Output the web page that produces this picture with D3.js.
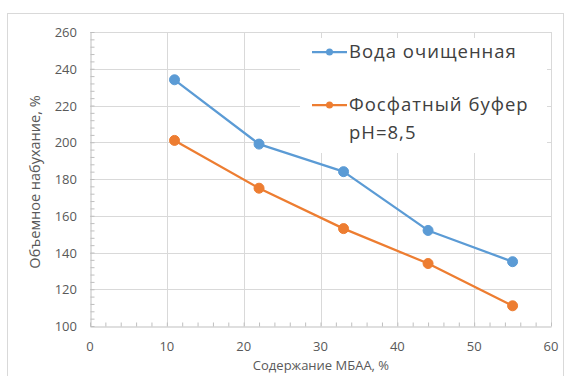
<!DOCTYPE html>
<html>
<head>
<meta charset="utf-8">
<script src="https://cdn.jsdelivr.net/npm/d3@7"></script>
<style>
  html, body { margin: 0; padding: 0; background: #fff; }
  svg { display: block; font-family: "Open Sans", sans-serif; }
</style>
</head>
<body>
<svg id="chart" width="566" height="376"></svg>
<script>
// МБАА content, %
const mbaa = [11, 22, 33, 44, 55];
// Volume swelling, %
const water = [234, 199, 184, 152, 135];
const buffer = [201, 175, 153, 134, 111];
const seriesNames = ["Вода очищенная", "Фосфатный буфер pH=8,5"];
const xTicks = [0, 10, 20, 30, 40, 50, 60];
const yTicks = [100, 120, 140, 160, 180, 200, 220, 240, 260];

const svg = d3.select("#chart");

const x = d3.scaleLinear().domain([0, 60]).range([90, 551]);
const y = d3.scaleLinear().domain([100, 260]).range([326, 32]);

// outer chart frame
svg.append("rect")
  .attr("x", 7.5).attr("y", 13.5).attr("width", 556).attr("height", 380)
  .attr("fill", "#fff").attr("stroke", "#d9d9d9");

// gridlines
const grid = svg.append("g");
grid.selectAll("line.h").data(yTicks.slice(1)).join("line")
  .attr("x1", x(0)).attr("x2", x(60))
  .attr("y1", d => Math.round(y(d)) + 0.5).attr("y2", d => Math.round(y(d)) + 0.5)
  .attr("stroke", "#d9d9d9");
grid.selectAll("line.v").data(xTicks.slice(1)).join("line")
  .attr("y1", y(100)).attr("y2", y(260))
  .attr("x1", d => Math.round(x(d)) + 0.5).attr("x2", d => Math.round(x(d)) + 0.5)
  .attr("stroke", "#d9d9d9");

// axes with inside minor ticks
const xAxis = d3.axisBottom(x).tickValues(d3.range(0, 61, 2)).tickSizeInner(-4).tickSizeOuter(0).tickFormat("");
const gx = svg.append("g").attr("transform", `translate(0,${Math.round(y(100)) + 0.5})`).call(xAxis);
gx.select(".domain").attr("stroke", "#bfbfbf");
gx.selectAll(".tick line").attr("stroke", "#bfbfbf");

const yAxis = d3.axisLeft(y).tickValues(d3.range(100, 261, 4)).tickSizeInner(-4).tickSizeOuter(0).tickFormat("");
const gy = svg.append("g").attr("transform", `translate(${Math.round(x(0)) + 0.5},0)`).call(yAxis);
gy.select(".domain").attr("stroke", "#bfbfbf");
gy.selectAll(".tick line").attr("stroke", "#bfbfbf");

// tick labels
svg.append("g").selectAll("text").data(xTicks).join("text")
  .attr("x", d => x(d)).attr("y", 351)
  .attr("text-anchor", "middle").attr("font-size", 13).attr("fill", "#595959")
  .text(d => d);
svg.append("g").selectAll("text").data(yTicks).join("text")
  .attr("x", 77).attr("y", d => y(d) + 5)
  .attr("text-anchor", "end").attr("font-size", 13).attr("fill", "#595959")
  .text(d => d);

// axis titles
svg.append("text").attr("x", 321).attr("y", 370)
  .attr("text-anchor", "middle").attr("font-size", 13).attr("fill", "#595959")
  .text("Содержание МБАА, %");
svg.append("text").attr("transform", "translate(40,182) rotate(-90)")
  .attr("text-anchor", "middle").attr("font-size", 14.5).attr("fill", "#595959")
  .text("Объемное набухание, %");

// series
const colors = ["#5b9bd5", "#ed7d31"];
const data = [water, buffer];
const line = d3.line().x((d, i) => x(mbaa[i])).y(d => y(d));
data.forEach((vals, k) => {
  svg.append("path").datum(vals).attr("d", line)
    .attr("fill", "none").attr("stroke", colors[k]).attr("stroke-width", 2.25)
    .attr("stroke-linejoin", "round");
  svg.append("g").selectAll("circle").data(vals).join("circle")
    .attr("cx", (d, i) => x(mbaa[i])).attr("cy", d => y(d)).attr("r", 5)
    .attr("fill", colors[k]).attr("stroke", colors[k]);
});

// legend
const lg = svg.append("g");
lg.append("rect").attr("x", 300).attr("y", 38).attr("width", 247).attr("height", 115).attr("fill", "#fff");
const legendRows = [{ y: 52, lines: ["Вода очищенная"] }, { y: 105, lines: ["Фосфатный буфер", "pH=8,5"] }];
legendRows.forEach((r, k) => {
  lg.append("line").attr("x1", 312).attr("x2", 347).attr("y1", r.y).attr("y2", r.y)
    .attr("stroke", colors[k]).attr("stroke-width", 2.25);
  lg.append("circle").attr("cx", 329.5).attr("cy", r.y).attr("r", 3.5).attr("fill", colors[k]);
  r.lines.forEach((t, j) => {
    lg.append("text").attr("x", 349).attr("y", r.y + 6 + j * 28)
      .attr("font-size", 18.5).attr("letter-spacing", 1).attr("fill", "#404040").text(t);
  });
});
</script>
</body>
</html>
